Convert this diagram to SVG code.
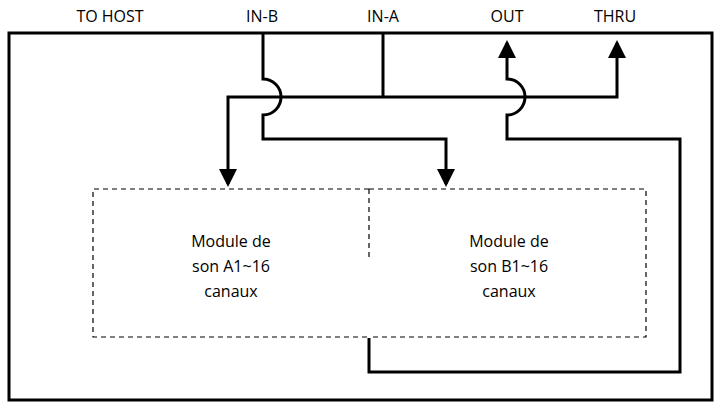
<svg xmlns="http://www.w3.org/2000/svg" width="720" height="406" viewBox="0 0 720 406">
<style>
text{font-family:"Open Sans","Liberation Sans",sans-serif;font-size:16px;fill:#000;text-anchor:middle}
.w{fill:none;stroke:#000;stroke-width:3}
.d{fill:none;stroke:#000;stroke-width:1.2;stroke-dasharray:5,4}
</style>
<defs><marker id="a" markerWidth="6" markerHeight="6" refX="5" refY="3" orient="auto" markerUnits="strokeWidth"><path d="M0,0L6,3L0,6z"/></marker></defs>
<rect x="0" y="0" width="720" height="406" fill="#fff"/>
<g id="labels">
<text x="110" y="22">TO HOST</text>
<text x="262" y="22">IN-B</text>
<text x="383" y="22">IN-A</text>
<text x="507" y="22">OUT</text>
<text x="615" y="22">THRU</text>
</g>
<g id="frame"><rect class="w" x="9" y="33" width="703" height="367"/></g>
<g id="moduleA">
<path class="d" d="M369,189 H93 V337 H369"/>
<text x="231" y="247">Module de</text><text x="231" y="272">son A1~16</text><text x="231" y="297">canaux</text>
</g>
<g id="moduleB">
<path class="d" d="M369,189 H646 V337 H369 M369,189 V260"/>
<text x="509" y="247">Module de</text><text x="509" y="272">son B1~16</text><text x="509" y="297">canaux</text>
</g>
<g id="connectors">
<path class="w" d="M383,33 V97"/>
<path class="w" d="M383,97 H228 V184" marker-end="url(#a)"/>
<path class="w" d="M383,97 H617 V43" marker-end="url(#a)"/>
<path class="w" d="M263,33 V79 A18,18 0 0 1 263,115 V139 H446 V184" marker-end="url(#a)"/>
<path class="w" d="M369,338 V372 H680 V139 H507 V115 A18,18 0 0 0 507,79 V43" marker-end="url(#a)"/>
</g>
</svg>
